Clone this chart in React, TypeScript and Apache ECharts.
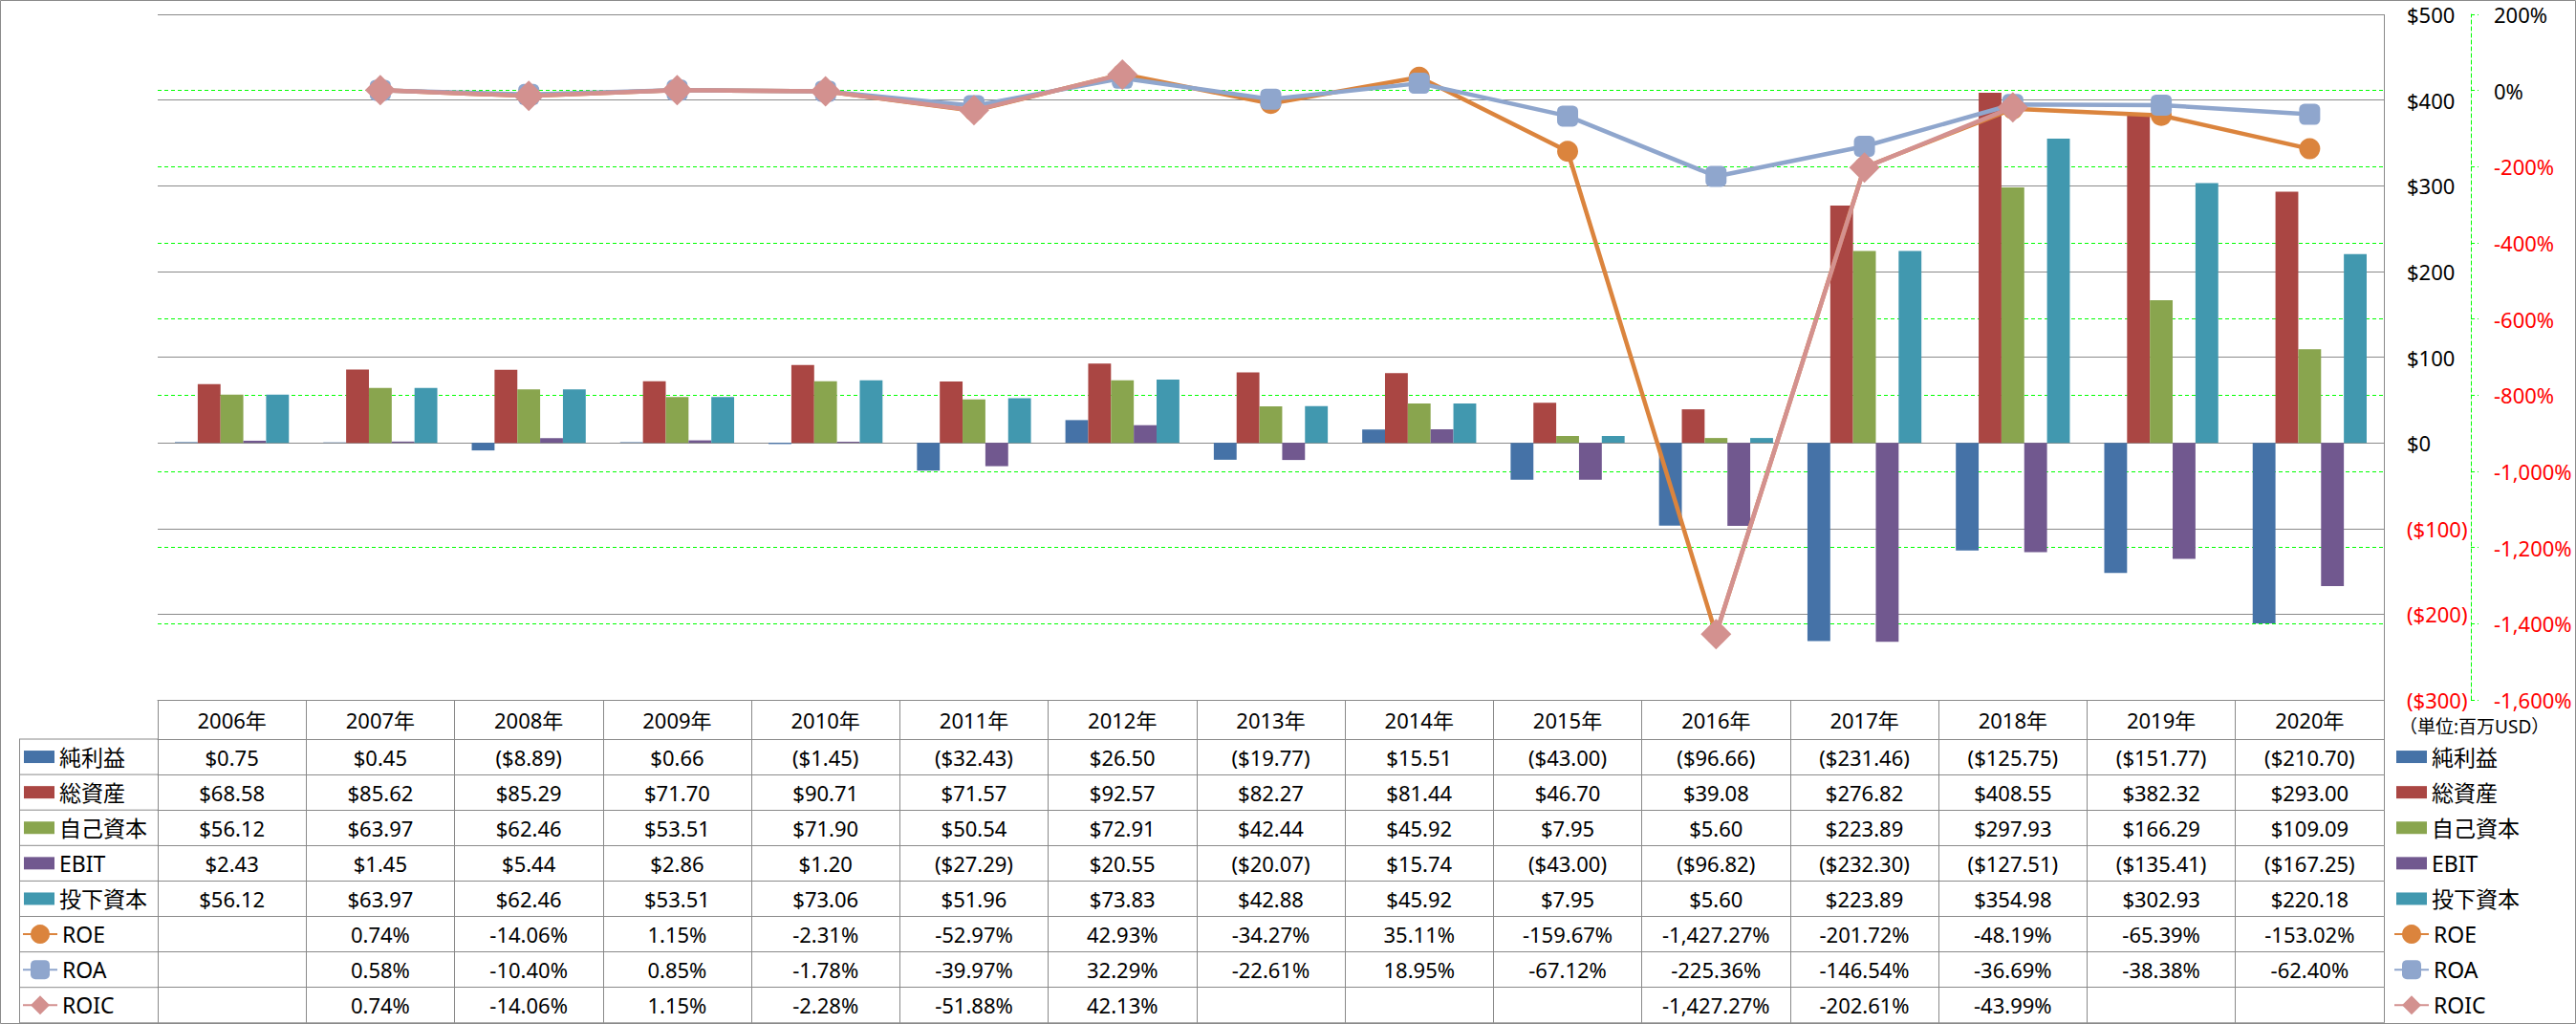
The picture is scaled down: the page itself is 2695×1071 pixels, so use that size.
import React, { useEffect, useRef } from 'react';
import * as echarts from 'echarts';

// ---------- data ----------
const categories = ['2006年', '2007年', '2008年', '2009年', '2010年', '2011年', '2012年', '2013年', '2014年', '2015年', '2016年', '2017年', '2018年', '2019年', '2020年'];
const netIncome = [0.75, 0.45, -8.89, 0.66, -1.45, -32.43, 26.5, -19.77, 15.51, -43.0, -96.66, -231.46, -125.75, -151.77, -210.7];
const totalAssets = [68.58, 85.62, 85.29, 71.7, 90.71, 71.57, 92.57, 82.27, 81.44, 46.7, 39.08, 276.82, 408.55, 382.32, 293.0];
const equity = [56.12, 63.97, 62.46, 53.51, 71.9, 50.54, 72.91, 42.44, 45.92, 7.95, 5.6, 223.89, 297.93, 166.29, 109.09];
const ebit = [2.43, 1.45, 5.44, 2.86, 1.2, -27.29, 20.55, -20.07, 15.74, -43.0, -96.82, -232.3, -127.51, -135.41, -167.25];
const investedCapital = [56.12, 63.97, 62.46, 53.51, 73.06, 51.96, 73.83, 42.88, 45.92, 7.95, 5.6, 223.89, 354.98, 302.93, 220.18];
const roe = [null, 0.74, -14.06, 1.15, -2.31, -52.97, 42.93, -34.27, 35.11, -159.67, -1427.27, -201.72, -48.19, -65.39, -153.02];
const roa = [null, 0.58, -10.4, 0.85, -1.78, -39.97, 32.29, -22.61, 18.95, -67.12, -225.36, -146.54, -36.69, -38.38, -62.4];
const roic = [null, 0.74, -14.06, 1.15, -2.28, -51.88, 42.13, null, null, null, -1427.27, -202.61, -43.99, null, null];

const dollarAxis = { min: -300, max: 500, interval: 100 };
const percentAxis = { min: -1600, max: 200, interval: 200 };
const unitLabel = '（単位:百万USD）';

// ---------- styles ----------
const FONT = "'Noto Sans', 'Noto Sans CJK JP', sans-serif";
const GRAY = '#8a8a8a';
const GREEN = '#00ff00';
const RED = '#ff0000';

const barDefs = [
  { name: '純利益', data: netIncome, color: '#4572A7' },
  { name: '総資産', data: totalAssets, color: '#AA4643' },
  { name: '自己資本', data: equity, color: '#89A54E' },
  { name: 'EBIT', data: ebit, color: '#71588F' },
  { name: '投下資本', data: investedCapital, color: '#4198AF' },
];
const lineDefs = [
  { name: 'ROE', data: roe, color: '#DB843D', symbol: 'circle', size: 22 },
  { name: 'ROA', data: roa, color: '#8FA6CD', symbol: 'roundRect', size: 22 },
  { name: 'ROIC', data: roic, color: '#D3918F', symbol: 'diamond', size: 32 },
];

const W = 2695;
const H = 1071;
const GRID_L = 165;
const GRID_R = 2494;
const GRID_T = 15;
const GRID_B = 732;
const HEADER_H = 41;
const ROW_H = 37.1;
const TABLE_L = 20;

const fmtNum = (v: number) =>
  Math.abs(v).toLocaleString('en-US', { minimumFractionDigits: 2, maximumFractionDigits: 2 });
const fmtDollar = (v: number | null) => (v == null ? '' : v < 0 ? `($${fmtNum(v)})` : `$${fmtNum(v)}`);
const fmtPct = (v: number | null) => (v == null ? '' : `${v < 0 ? '-' : ''}${fmtNum(v)}%`);

const rows = [
  ...barDefs.map((d) => ({ name: d.name, kind: 'bar', texts: d.data.map(fmtDollar) })),
  ...lineDefs.map((d) => ({ name: d.name, kind: 'line', texts: d.data.map(fmtPct) })),
];

function buildOption() {
  const tableTop = GRID_B + HEADER_H;

  const xAxes: any[] = [
    {
      type: 'category',
      data: categories,
      gridIndex: 0,
      position: 'bottom',
      boundaryGap: true,
      z: 2,
      axisLine: { onZero: false, lineStyle: { color: GRAY, width: 1 } },
      axisTick: { show: true, interval: 0, length: HEADER_H, lineStyle: { color: GRAY, width: 1 } },
      axisLabel: { interval: 0, margin: HEADER_H / 2, verticalAlign: 'middle', fontSize: 22, color: '#000', fontFamily: FONT },
      splitLine: { show: false },
    },
    ...rows.map((r, i) => ({
      type: 'category',
      data: categories,
      gridIndex: 0,
      position: 'bottom',
      offset: HEADER_H + i * ROW_H,
      boundaryGap: true,
      axisLine: { onZero: false, lineStyle: { color: GRAY, width: 1 } },
      axisTick: { show: true, interval: 0, length: ROW_H, lineStyle: { color: GRAY, width: 1 } },
      axisLabel: {
        interval: 0,
        margin: ROW_H / 2,
        verticalAlign: 'middle',
        fontSize: 22,
        color: '#000',
        fontFamily: FONT,
        formatter: (_v: string, idx: number) => r.texts[idx],
      },
      splitLine: { show: false },
    })),
  ];

  const yAxes: any[] = [
    {
      type: 'value',
      position: 'right',
      z: 1,
      ...dollarAxis,
      axisLine: { show: false },
      axisTick: { show: false },
      splitLine: { show: true, lineStyle: { color: GRAY, width: 1 } },
      axisLabel: {
        margin: 24,
        fontSize: 22,
        fontFamily: FONT,
        formatter: (v: number) => (v < 0 ? `($${-v})` : `$${v}`),
        color: (v: any) => (Number(v) < 0 ? RED : '#000'),
      },
    },
    {
      type: 'value',
      position: 'right',
      offset: 91,
      z: 0,
      ...percentAxis,
      axisLine: { show: true, onZero: false, lineStyle: { color: GREEN, width: 1, type: [4, 3] } },
      axisTick: { show: true, length: 8, lineStyle: { color: GREEN, width: 1, type: [4, 3] } },
      splitLine: { show: true, lineStyle: { color: GREEN, width: 1, type: [4, 3] } },
      axisLabel: {
        margin: 24,
        fontSize: 22,
        fontFamily: FONT,
        formatter: (v: number) => `${v < 0 ? '-' : ''}${Math.abs(v).toLocaleString('en-US')}%`,
        color: (v: any) => (Number(v) < 0 ? RED : '#000'),
      },
    },
  ];

  const series: any[] = [
    ...barDefs.map((d) => ({
      name: d.name,
      type: 'bar',
      xAxisIndex: 0,
      yAxisIndex: 0,
      data: d.data,
      barGap: '0%',
      barCategoryGap: '23.2%',
      itemStyle: { color: d.color },
      emphasis: { disabled: true },
    })),
    ...lineDefs.map((d, i) => ({
      name: d.name,
      type: 'line',
      xAxisIndex: 0,
      yAxisIndex: 1,
      data: d.data,
      connectNulls: false,
      symbol: d.symbol,
      symbolSize: d.size,
      showAllSymbol: true,
      lineStyle: { color: d.color, width: 4.5 },
      itemStyle: { color: d.color },
      z: 3 + i,
      emphasis: { disabled: true },
    })),
  ];

  const rowCenter = (i: number) => tableTop + i * ROW_H + ROW_H / 2;
  const legends: any[] = [];
  rows.forEach((r, i) => {
    const isBar = r.kind === 'bar';
    const common = {
      data: [r.name],
      orient: 'horizontal',
      selectedMode: false,
      padding: 0,
      itemGap: 0,
      itemWidth: isBar ? 32 : 36,
      itemHeight: isBar ? 13 : 25,
      textStyle: { fontSize: 23, lineHeight: 26, color: '#000', fontFamily: FONT },
      top: rowCenter(i) - 13,
      ...(isBar ? { icon: 'rect' } : {}),
    };
    legends.push({ ...common, left: isBar ? 25 : 23 });
    legends.push({ ...common, left: isBar ? 2507 : 2504 });
  });

  const lines: any[] = [];
  for (let i = 0; i <= rows.length; i++) {
    const y = tableTop + i * ROW_H;
    lines.push({
      type: 'line',
      silent: true,
      shape: { x1: TABLE_L, y1: y, x2: i === rows.length ? GRID_R : GRID_L, y2: y },
      style: { stroke: GRAY, lineWidth: 1 },
    });
  }
  lines.push({
    type: 'line',
    silent: true,
    shape: { x1: TABLE_L + 0.5, y1: tableTop, x2: TABLE_L + 0.5, y2: tableTop + rows.length * ROW_H },
    style: { stroke: GRAY, lineWidth: 1 },
  });
  lines.push({
    type: 'line',
    silent: true,
    shape: { x1: GRID_R + 0.5, y1: GRID_T, x2: GRID_R + 0.5, y2: GRID_B },
    style: { stroke: GRAY, lineWidth: 1 },
  });
  lines.push({
    type: 'line',
    silent: true,
    shape: { x1: GRID_L, y1: GRID_T + 0.5, x2: GRID_R, y2: GRID_T + 0.5 },
    style: { stroke: GRAY, lineWidth: 1 },
  });
  lines.push({
    type: 'rect',
    silent: true,
    shape: { x: 0.5, y: 0.5, width: W - 1, height: H - 1 },
    style: { fill: 'none', stroke: GRAY, lineWidth: 1 },
  });
  lines.push({
    type: 'text',
    silent: true,
    x: 2510,
    y: 760,
    style: { text: unitLabel, fontSize: 19, fontFamily: FONT, fill: '#000', verticalAlign: 'middle', align: 'left' },
  });

  return {
    animation: false,
    backgroundColor: '#fff',
    textStyle: { fontFamily: FONT },
    grid: {
      left: GRID_L,
      top: GRID_T,
      width: GRID_R - GRID_L,
      height: GRID_B - GRID_T,
      containLabel: false,
      outerBoundsMode: 'none',
    },
    xAxis: xAxes,
    yAxis: yAxes,
    legend: legends,
    series,
    graphic: lines,
  };
}

export default function App() {
  const ref = useRef<HTMLDivElement>(null);
  useEffect(() => {
    if (!ref.current) return;
    const chart = echarts.init(ref.current, undefined, { renderer: 'svg', width: W, height: H });
    chart.setOption(buildOption() as any);
    return () => chart.dispose();
  }, []);
  return (
    <div
      ref={ref}
      style={{ position: 'fixed', left: 0, top: 0, width: W, height: H, background: '#fff' }}
    />
  );
}
